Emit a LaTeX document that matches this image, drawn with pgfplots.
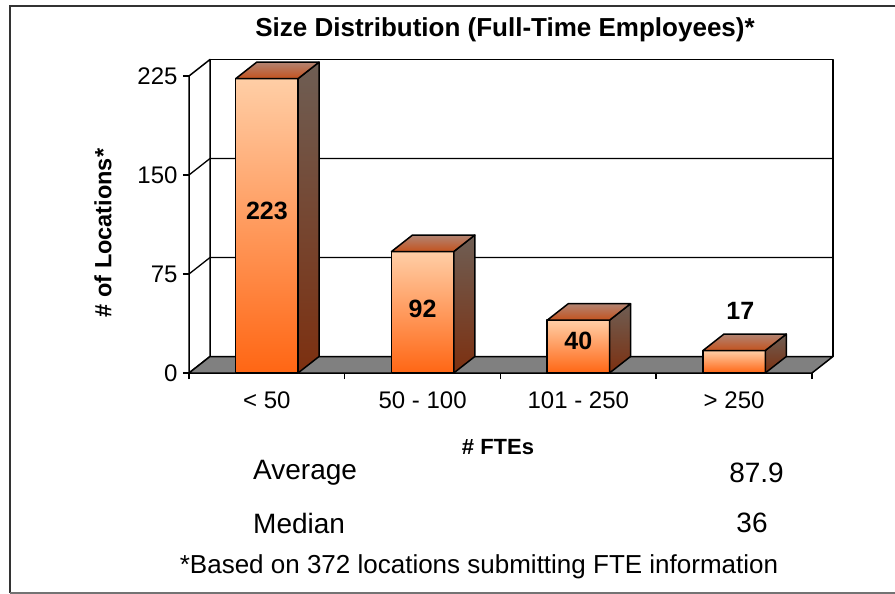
\documentclass[border=0pt]{standalone}
\usepackage{pgfplots}
\pgfplotsset{compat=1.18}
\usepackage{fontspec}
\setmainfont{Liberation Sans}
\definecolor{frontTop}{RGB}{255,206,166}
\definecolor{frontBot}{RGB}{255,102,20}
\definecolor{sideTop}{RGB}{110,94,84}
\definecolor{sideBot}{RGB}{125,48,16}
\definecolor{topBack}{RGB}{178,132,114}
\definecolor{topFront}{RGB}{196,82,30}
\definecolor{floorGray}{RGB}{128,128,128}
\tikzset{
  front/.style={draw=black, line width=1.5pt, line join=round, top color=frontTop, bottom color=frontBot},
  side/.style={draw=black, line width=1.5pt, line join=round, top color=sideTop, bottom color=sideBot},
  topf/.style={draw=black, line width=1.5pt, line join=round, top color=topBack, bottom color=topFront},
  wall/.style={draw=black, line width=1.5pt, line join=round, fill=white},
  grid3d/.style={draw=black, line width=1.3pt},
}
\begin{document}
\begin{tikzpicture}
\path[use as bounding box] (0pt,0pt) rectangle (895pt,-594pt);
\draw[line width=1.6pt, black!80] (10pt,-593pt) -- (10pt,-6pt) -- (895pt,-6pt);
\draw[line width=1.4pt, black!55] (10pt,-593pt) -- (895pt,-593pt);
\begin{axis}[
  at={(189pt,-373pt)}, anchor=south west,
  scale only axis, width=644pt, height=313.5pt,
  xmin=-0.5, xmax=3.635, ymin=0, ymax=237.5,
  clip=false,
  axis x line*=bottom, axis y line*=left,
  axis line style={draw=none},
  ytick={0,75,150,225},
  xtick={-0.5,0.5,1.5,2.5,3.5},
  x tick label as interval,
  xticklabels={{< 50},{50 - 100},{101 - 250},{> 250}},
  tick align=outside, major tick length=6pt,
  tick style={black, line width=1.5pt},
  ticklabel style={font=\fontsize{24}{26}\selectfont},
  xticklabel style={yshift=-9pt},
  yticklabel style={xshift=-2pt},
  /pgf/number format/assume math mode=true,
]
% walls
\addplot[wall] coordinates {(-0.365,12.5) (3.635,12.5) (3.635,237.5) (-0.365,237.5)} -- cycle;
\addplot[wall] coordinates {(-0.5,0) (-0.365,12.5) (-0.365,237.5) (-0.5,225)} -- cycle;
% gridlines
\addplot[grid3d] coordinates {(-0.5,75) (-0.365,87.5) (3.635,87.5)};
\addplot[grid3d] coordinates {(-0.5,150) (-0.365,162.5) (3.635,162.5)};
% floor
\addplot[draw=black, line width=1.5pt, line join=round, fill=floorGray] coordinates {(-0.5,0) (3.5,0) (3.635,12.5) (-0.365,12.5)} -- cycle;
% bar < 50 : 223
\addplot[front] coordinates {(-0.2,0) (0.2,0) (0.2,223) (-0.2,223)} -- cycle;
\addplot[side] coordinates {(0.2,0) (0.335,12.5) (0.335,235.5) (0.2,223)} -- cycle;
\addplot[topf] coordinates {(-0.2,223) (0.2,223) (0.335,235.5) (-0.065,235.5)} -- cycle;
% bar 50 - 100 : 92
\addplot[front] coordinates {(0.8,0) (1.2,0) (1.2,92) (0.8,92)} -- cycle;
\addplot[side] coordinates {(1.2,0) (1.335,12.5) (1.335,104.5) (1.2,92)} -- cycle;
\addplot[topf] coordinates {(0.8,92) (1.2,92) (1.335,104.5) (0.935,104.5)} -- cycle;
% bar 101 - 250 : 40
\addplot[front] coordinates {(1.8,0) (2.2,0) (2.2,40) (1.8,40)} -- cycle;
\addplot[side] coordinates {(2.2,0) (2.335,12.5) (2.335,52.5) (2.2,40)} -- cycle;
\addplot[topf] coordinates {(1.8,40) (2.2,40) (2.335,52.5) (1.935,52.5)} -- cycle;
% bar > 250 : 17
\addplot[front] coordinates {(2.8,0) (3.2,0) (3.2,17) (2.8,17)} -- cycle;
\addplot[side] coordinates {(3.2,0) (3.335,12.5) (3.335,29.5) (3.2,17)} -- cycle;
\addplot[topf] coordinates {(2.8,17) (3.2,17) (3.335,29.5) (2.935,29.5)} -- cycle;
% data labels
\node[font=\bfseries\fontsize{25}{27}\selectfont] at (axis cs:0,123) {223};
\node[font=\bfseries\fontsize{25}{27}\selectfont] at (axis cs:1,48.5) {92};
\node[font=\bfseries\fontsize{25}{27}\selectfont] at (axis cs:2,24) {40};
\node[font=\bfseries\fontsize{25}{27}\selectfont] at (axis cs:3.04,47) {17};
\end{axis}
\node[inner sep=0pt, font=\bfseries\fontsize{26}{28}\selectfont] at (505pt,-30pt) {Size Distribution (Full-Time Employees)*};
\node[inner sep=0pt, rotate=90, font=\bfseries\fontsize{23.5}{25}\selectfont] at (103pt,-233pt) {\# of Locations*};
\node[inner sep=0pt, font=\bfseries\fontsize{22}{24}\selectfont] at (498pt,-447pt) {\# FTEs};
\node[inner sep=0pt, anchor=west, font=\fontsize{28}{30}\selectfont] at (253pt,-473pt) {Average};
\node[inner sep=0pt, anchor=east, font=\fontsize{28}{30}\selectfont] at (784pt,-473pt) {87.9};
\node[inner sep=0pt, anchor=west, font=\fontsize{28}{30}\selectfont] at (253pt,-523pt) {Median};
\node[inner sep=0pt, font=\fontsize{28}{30}\selectfont] at (752pt,-523pt) {36};
\node[inner sep=0pt, font=\fontsize{26}{28}\selectfont] at (479pt,-567pt) {*Based on 372 locations submitting FTE information};
\end{tikzpicture}
\end{document}
